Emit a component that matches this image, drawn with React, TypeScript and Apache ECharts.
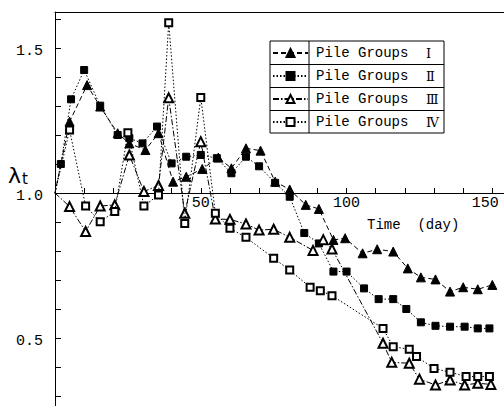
import React, { useEffect, useRef } from 'react';
import * as echarts from 'echarts';

// Legend wording
const GROUP_LABEL = 'Pile Groups';
const GROUP_NUMERALS = ['Ⅰ', 'Ⅱ', 'Ⅲ', 'Ⅳ'];

// Time (day) and load-sharing ratio λt for each pile group
const daysI = [0, 5, 11, 15.5, 21.5, 25.5, 31, 35.5, 40.5, 45, 50.5, 56, 60.5, 65.5, 70.5, 75.5, 80.5, 86, 90.5, 95.5, 99.5, 105.5, 110.5, 116, 121, 125.5, 130.5, 135.5, 140, 145, 150];
const lambdaI = [1.0, 1.246, 1.372, 1.298, 1.206, 1.171, 1.148, 1.206, 1.039, 1.056, 1.083, 1.122, 1.085, 1.154, 1.146, 1.039, 1.012, 0.959, 0.945, 0.838, 0.844, 0.792, 0.806, 0.798, 0.74, 0.709, 0.702, 0.66, 0.675, 0.668, 0.683];

const daysII = [0, 2, 5.5, 10, 15.5, 21.5, 25.5, 30, 35, 40, 45, 50, 55.5, 60.5, 65.5, 70, 75.5, 80.5, 85.5, 90.5, 95.5, 100, 106, 111, 116, 120.5, 125.5, 130.5, 135.5, 140.5, 145, 149];
const lambdaII = [1.0, 1.1, 1.323, 1.424, 1.301, 1.2, 1.189, 1.171, 1.229, 1.102, 1.125, 1.131, 1.12, 1.068, 1.125, 1.092, 1.035, 0.987, 0.862, 0.826, 0.729, 0.729, 0.671, 0.634, 0.634, 0.6, 0.554, 0.542, 0.539, 0.539, 0.533, 0.533];

const daysIII = [0, 5, 10.5, 15.5, 20.5, 25.5, 30.5, 35.5, 39, 44.5, 50, 55, 60, 65.5, 70, 75, 80.5, 88.5, 92, 95, 112.5, 115.5, 121.5, 125, 130.5, 135.5, 140.5, 145, 149.5];
const lambdaIII = [1.0, 0.953, 0.867, 0.955, 0.959, 1.131, 1.005, 1.026, 1.328, 0.93, 1.177, 0.91, 0.909, 0.893, 0.872, 0.875, 0.847, 0.802, 0.839, 0.807, 0.482, 0.416, 0.413, 0.358, 0.338, 0.355, 0.338, 0.344, 0.34];

const daysIV = [0, 5, 10.5, 15.5, 20.5, 25, 30.5, 35.5, 39, 44.5, 50, 55, 60, 65.5, 75, 80.5, 87.5, 91, 95, 112.5, 116, 121.5, 124, 130, 135.5, 141, 145, 149];
const lambdaIV = [1.0, 1.217, 0.955, 0.901, 0.936, 1.208, 0.955, 0.993, 1.587, 0.895, 1.329, 0.93, 0.878, 0.847, 0.775, 0.734, 0.675, 0.663, 0.646, 0.533, 0.47, 0.461, 0.436, 0.395, 0.382, 0.367, 0.367, 0.367];

// Axis ranges
const DAY_MAX = 154;
const DAY_LAST_LABEL = 150;
const LAMBDA_MIN = 0;
const LAMBDA_MAX = 1.624;
const LAMBDA_CROSS = 1.0; // the time axis is drawn across the plot at λt = 1

const MONO = '"Liberation Mono", "DejaVu Sans Mono", monospace';

const seriesDays = [daysI, daysII, daysIII, daysIV];
const seriesLambda = [lambdaI, lambdaII, lambdaIII, lambdaIV];
const seriesLook = [
  { symbol: 'triangle', symbolSize: 9, dash: [5, 3] },
  { symbol: 'rect', symbolSize: 7, dash: [1.5, 2] },
  { symbol: 'emptyTriangle', symbolSize: 9, dash: [6, 2, 1.5, 2] },
  { symbol: 'emptyRect', symbolSize: 7, dash: [1.5, 2] },
];

function isMultiple(v: number, step: number) {
  const q = v / step;
  return Math.abs(q - Math.round(q)) < 1e-6;
}

export default function App() {
  const ref = useRef<HTMLDivElement>(null);

  useEffect(() => {
    if (!ref.current) return;
    const chart = echarts.init(ref.current, undefined, { renderer: 'svg' });

    const names = GROUP_NUMERALS.map((n) => `${GROUP_LABEL} ${n}`);

    const series = seriesDays.map((days, si) => {
      const look = seriesLook[si];
      return {
        type: 'line',
        name: names[si],
        xAxisIndex: 0,
        yAxisIndex: 0,
        data: days.map((d, i) =>
          i === 0 && d === 0
            ? { value: [d, seriesLambda[si][i]], symbol: 'none' }
            : [d, seriesLambda[si][i]]
        ),
        symbol: look.symbol,
        symbolSize: look.symbolSize,
        showAllSymbol: true,
        lineStyle: { color: '#000', width: 1, type: look.dash },
        itemStyle: { color: '#000', borderColor: '#000', borderWidth: 1 },
        emphasis: { disabled: true },
        z: 2 + si,
      };
    });

    const sep = (y: number) => ({
      type: 'line',
      silent: true,
      shape: { x1: 270, y1: y, x2: 444, y2: y },
      style: { stroke: '#000', lineWidth: 1 },
    });

    chart.setOption({
      animation: false,
      backgroundColor: '#fff',
      grid: [
        // plotting area; it runs on below the visible frame
        { left: 55, right: 0, top: 12, bottom: -77, outerBoundsMode: 'none', containLabel: false },
        // upper band whose lower edge carries the time axis at λt = 1
        { left: 55, right: 0, top: 12, bottom: 213, outerBoundsMode: 'none', containLabel: false },
      ],
      xAxis: [
        {
          gridIndex: 0,
          type: 'value',
          position: 'top',
          min: 0,
          max: DAY_MAX,
          axisLine: { show: true, onZero: false, lineStyle: { color: '#000', width: 1 } },
          axisTick: { show: false },
          axisLabel: { show: false },
          splitLine: { show: false },
        },
        {
          gridIndex: 1,
          type: 'value',
          position: 'bottom',
          min: 0,
          max: DAY_MAX,
          interval: 10,
          axisLine: { show: true, onZero: false, lineStyle: { color: '#000', width: 1 } },
          axisTick: { show: true, inside: true, length: 5, lineStyle: { color: '#000', width: 1 } },
          axisLabel: {
            formatter: (v: number) => {
              if (!(v > 0 && v <= DAY_LAST_LABEL && isMultiple(v, 50))) return '';
              // the last label is nudged left so it stays inside the frame
              return v === DAY_LAST_LABEL ? `{e|${v}}` : String(v);
            },
            margin: 3,
            fontFamily: MONO,
            fontSize: 15,
            color: '#000',
            rich: {
              e: { fontFamily: MONO, fontSize: 15, color: '#000', padding: [0, 14, 0, 0] },
            },
          },
          splitLine: { show: false },
        },
      ],
      yAxis: [
        {
          gridIndex: 0,
          type: 'value',
          min: LAMBDA_MIN,
          max: LAMBDA_MAX,
          interval: 0.1,
          axisLine: { show: true, onZero: false, lineStyle: { color: '#000', width: 1 } },
          axisTick: { show: true, inside: true, length: 6, lineStyle: { color: '#000', width: 1 } },
          axisLabel: {
            formatter: (v: number) => (v > 0.25 && isMultiple(v, 0.5) ? v.toFixed(1) : ''),
            margin: 12,
            fontFamily: MONO,
            fontSize: 15,
            lineHeight: 8,
            verticalAlign: 'top',
            color: '#000',
          },
          splitLine: { show: false },
        },
        {
          gridIndex: 1,
          type: 'value',
          min: LAMBDA_CROSS,
          max: LAMBDA_MAX,
          show: false,
        },
      ],
      legend: {
        data: names,
        orient: 'vertical',
        left: 270,
        top: 41,
        padding: [5, 0, 4, 2],
        itemWidth: 35,
        itemHeight: 10,
        itemGap: 9,
        selectedMode: false,
        formatter: (name: string) => {
          const idx = names.indexOf(name);
          return `{a|${GROUP_LABEL}}{n|${GROUP_NUMERALS[idx]}}`;
        },
        textStyle: {
          fontFamily: MONO,
          fontSize: 14,
          color: '#000',
          lineHeight: 14,
          padding: [0, 0, 0, 3],
          rich: {
            a: { fontFamily: MONO, fontSize: 14, color: '#000', width: 110, lineHeight: 14 },
            n: { fontFamily: '"DejaVu Serif", "Liberation Serif", serif', fontSize: 13, color: '#000', lineHeight: 14 },
          },
        },
      },
      graphic: [
        {
          type: 'rect',
          silent: true,
          shape: { x: 270, y: 41, width: 174, height: 92 },
          style: { fill: 'none', stroke: '#000', lineWidth: 1 },
        },
        {
          type: 'line',
          silent: true,
          shape: { x1: 309, y1: 41, x2: 309, y2: 133 },
          style: { stroke: '#000', lineWidth: 1 },
        },
        sep(64.5),
        sep(87.5),
        sep(110.5),
        {
          type: 'text',
          silent: true,
          x: 8,
          y: 175,
          style: {
            text: 'λ',
            fontFamily: '"DejaVu Sans", sans-serif',
            fontSize: 22,
            lineHeight: 18,
            fill: '#000',
            verticalAlign: 'middle',
          },
        },
        {
          type: 'text',
          silent: true,
          x: 22,
          y: 179,
          style: {
            text: 't',
            fontFamily: '"DejaVu Sans", sans-serif',
            fontSize: 15,
            lineHeight: 10,
            fill: '#000',
            verticalAlign: 'middle',
          },
        },
        {
          type: 'text',
          silent: true,
          x: 367,
          y: 225,
          style: { text: 'Time  (day)', fontFamily: MONO, fontSize: 14, fill: '#000', verticalAlign: 'middle' },
        },
      ],
      series,
    });

    return () => chart.dispose();
  }, []);

  return (
    <div
      ref={ref}
      style={{ position: 'fixed', left: 0, top: 0, width: 504, height: 406 }}
    />
  );
}
